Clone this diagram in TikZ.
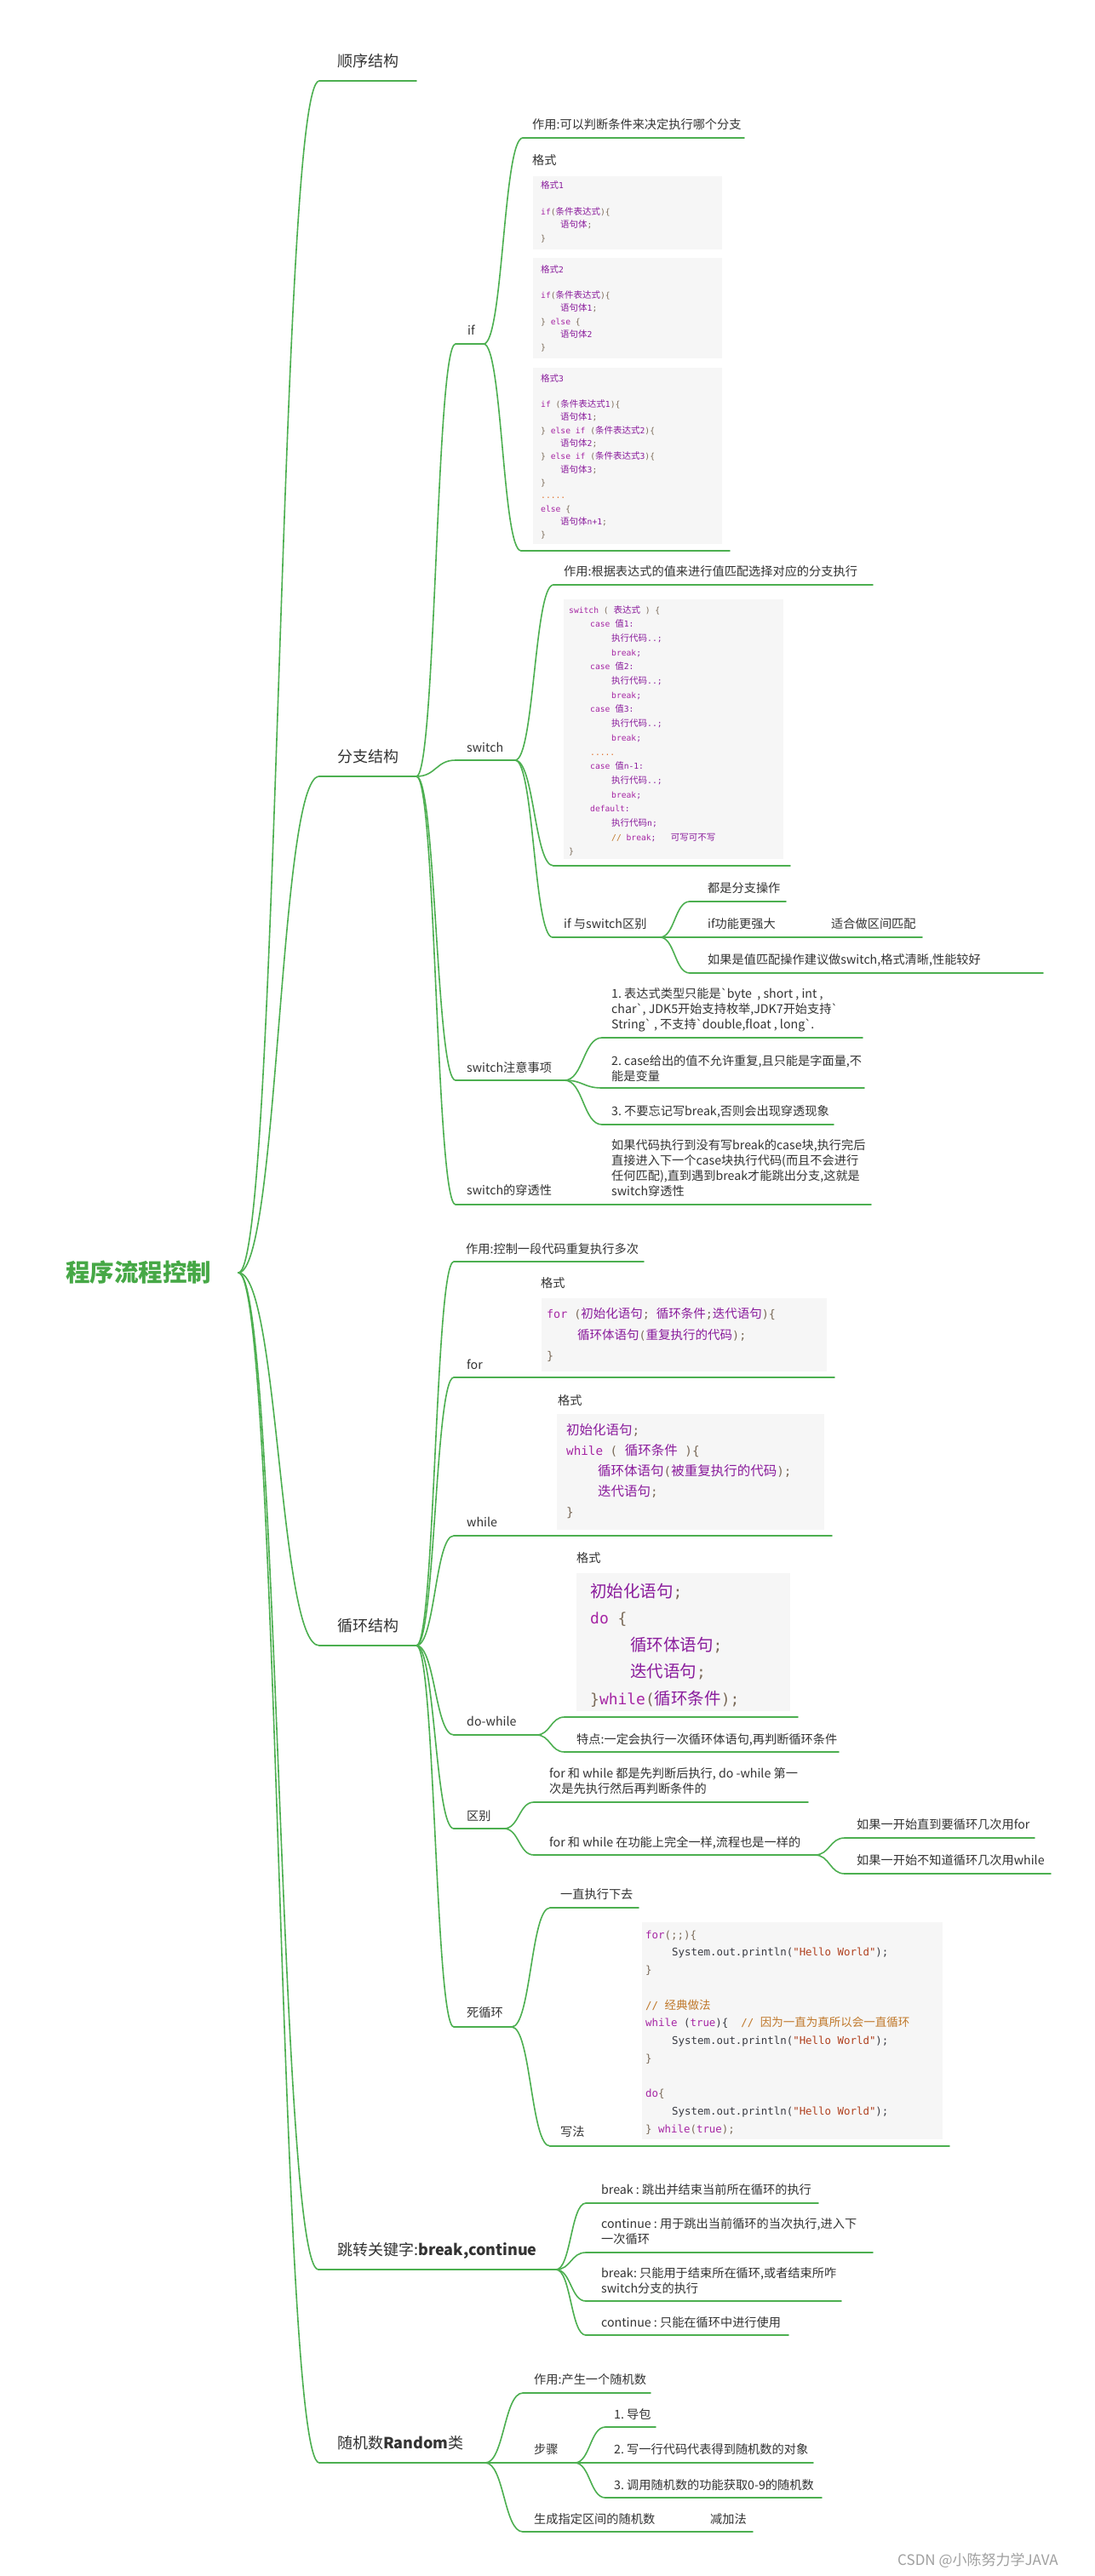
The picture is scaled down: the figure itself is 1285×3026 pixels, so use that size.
\documentclass[tikz,border=0pt]{standalone}
\usepackage{fontspec}
\setmainfont{Noto Sans CJK SC}
\newfontfamily\monof{DejaVu Sans Mono}[Scale=0.92]
\newfontfamily\gravef{DejaVu Sans}
\usetikzlibrary{calc}
\definecolor{brgreen}{HTML}{4CAF50}
\definecolor{rootc}{HTML}{46A846}
\definecolor{txtc}{HTML}{333333}
\definecolor{codebg}{HTML}{F6F6F6}
\definecolor{ckw}{HTML}{A626A4}
\definecolor{ccn}{HTML}{8A1C9C}
\definecolor{cpn}{HTML}{7A6A58}
\definecolor{cst}{HTML}{B0401E}
\definecolor{ccm}{HTML}{C0782A}
\definecolor{cpl}{HTML}{383A42}
\definecolor{cdt}{HTML}{E0702A}
\definecolor{wmc}{HTML}{A0A0A0}
\newcommand\Ckw[1]{{\monof\color{ckw}#1}}
\newcommand\Ccn[1]{{\color{ccn}#1}}
\newcommand\Cmo[1]{{\monof\color{ccn}#1}}
\newcommand\Cpn[1]{{\monof\color{cpn}#1}}
\newcommand\Cst[1]{{\monof\color{cst}#1}}
\newcommand\Ccm[1]{{\monof\color{ccm}#1}}
\newcommand\Cczm[1]{{\color{ccm}#1}}
\newcommand\Cpl[1]{{\monof\color{cpl}#1}}
\newcommand\Cdt[1]{{\monof\color{cdt}#1}}
\newcommand\bq{{\gravef\char"60}}
\newcommand\ml[1]{\begin{tabular}[t]{@{}l@{}}#1\end{tabular}}
\newcommand\mkul[4]{\coordinate (#1-s) at (#2,#4); \coordinate (#1-e) at (#3,#4); \draw[br] (#1-s) -- (#1-e);}
\newcommand\lnk[2]{\draw[br] let \p1=(#1-e), \p2=(#2-s) in (\p1) .. controls ({(\x1+\x2)/2},\y1) and ({(\x1+\x2)/2},\y2) .. (\p2);}
\tikzset{
  br/.style={draw=brgreen, line width=1.6pt, line cap=round},
  lbl/.style={anchor=base west, inner sep=0pt, text=txtc, font=\fontsize{14.2}{18}\selectfont},
  lone/.style={anchor=base west, inner sep=0pt, text=txtc, font=\fontsize{18}{22}\selectfont},
  rootlbl/.style={anchor=base west, inner sep=0pt, text=rootc, font=\fontsize{28.5}{32}\selectfont\bfseries},
  code/.style={anchor=base west, inner sep=0pt},
  codebox/.style={fill=codebg, draw=none, inner sep=0pt, anchor=north west},
}
\begin{document}
\frenchspacing
\begin{tikzpicture}[x=1pt,y=-1pt]
\useasboundingbox (0,0) rectangle (1285,3026);
\fill[white] (0,0) rectangle (1285,3026);

% ---------- root and level 1 ----------
\node[rootlbl] (root) at (77,1505.8) {程序流程控制};
\coordinate (root-e) at (280,1495);

\node[lone] (seq) at (396,78.8) {顺序结构}; \mkul{seq}{375}{489}{95}
\node[lone] (branch) at (396,895.8) {分支结构}; \mkul{branch}{375}{489}{912}
\node[lone] (loop) at (396,1916.8) {循环结构}; \mkul{loop}{375}{489}{1933}
\node[lone] (jump) at (396,2649.8) {跳转关键字:\textbf{break,continue}}; \mkul{jump}{374}{653}{2666}
\node[lone] (rand) at (396,2876.8) {随机数\textbf{Random}类}; \mkul{rand}{375}{570}{2893}
\lnk{root}{seq} \lnk{root}{branch} \lnk{root}{loop} \lnk{root}{jump} \lnk{root}{rand}

% ---------- branch ----------
\node[lbl] (if) at (549,393.4) {if}; \mkul{if}{535}{568}{404}
\node[lbl] (ifuse) at (625,151.4) {作用:可以判断条件来决定执行哪个分支}; \mkul{ifuse}{614}{874}{162}
\node[lbl] (iffmt) at (625,193.4) {格式}; \mkul{iffmt}{612}{857}{647}
\node[codebox, minimum width=222pt, minimum height=86pt] (ifbox1) at (626,207) {};
\node[codebox, minimum width=222pt, minimum height=118pt] (ifbox2) at (626,303) {};
\node[codebox, minimum width=222pt, minimum height=207pt] (ifbox3) at (626,432) {};
\node[code, font=\fontsize{10.5}{15.33}\selectfont] (ifcode1) at (635,222) {\ml{\Ccn{格式}\Cmo{1}\\
\\
\Ckw{if}\Cpn{(}\Ccn{条件表达式}\Cpn{)\{}\\
\hspace*{23pt}\Ccn{语句体}\Cpn{;}\\
\Cpn{\}}}};
\node[code, font=\fontsize{10.5}{15.33}\selectfont] (ifcode2) at (635,320) {\ml{\Ccn{格式}\Cmo{2}\\
\\
\Ckw{if}\Cpn{(}\Ccn{条件表达式}\Cpn{)\{}\\
\hspace*{23pt}\Ccn{语句体}\Cmo{1}\Cpn{;}\\
\Cpn{\}\ }\Ckw{else}\Cpn{\ \{}\\
\hspace*{23pt}\Ccn{语句体}\Cmo{2}\\
\Cpn{\}}}};
\node[code, font=\fontsize{10.5}{15.33}\selectfont] (ifcode3) at (635,448) {\ml{\Ccn{格式}\Cmo{3}\\
\\
\Ckw{if}\Cpn{\ (}\Ccn{条件表达式}\Cmo{1}\Cpn{)\{}\\
\hspace*{23pt}\Ccn{语句体}\Cmo{1}\Cpn{;}\\
\Cpn{\}\ }\Ckw{else\ if}\Cpn{\ (}\Ccn{条件表达式}\Cmo{2}\Cpn{)\{}\\
\hspace*{23pt}\Ccn{语句体}\Cmo{2}\Cpn{;}\\
\Cpn{\}\ }\Ckw{else\ if}\Cpn{\ (}\Ccn{条件表达式}\Cmo{3}\Cpn{)\{}\\
\hspace*{23pt}\Ccn{语句体}\Cmo{3}\Cpn{;}\\
\Cpn{\}}\\
\Cdt{.....}\\
\Ckw{else}\Cpn{\ \{}\\
\hspace*{23pt}\Ccn{语句体}\Cmo{n+1}\Cpn{;}\\
\Cpn{\}}}};

\node[lbl] (switch) at (548,883.4) {switch}; \mkul{switch}{535}{605}{893}
\node[lbl] (swuse) at (662,676.4) {作用:根据表达式的值来进行值匹配选择对应的分支执行}; \mkul{swuse}{650}{1025}{687}
\node[codebox, minimum width=258pt, minimum height=305pt] (swbox) at (662,704) {};
\node[code, font=\fontsize{10.5}{16.7}\selectfont] (swcode) at (668,720) {\ml{\Ckw{switch}\Cpn{\ (\ }\Ccn{表达式}\Cpn{\ )\ \{}\\
\hspace*{25pt}\Ckw{case}\Cpl{\ }\Ccn{值}\Cmo{1:}\\
\hspace*{50pt}\Ccn{执行代码}\Cmo{..;}\\
\hspace*{50pt}\Ckw{break}\Cmo{;}\\
\hspace*{25pt}\Ckw{case}\Cpl{\ }\Ccn{值}\Cmo{2:}\\
\hspace*{50pt}\Ccn{执行代码}\Cmo{..;}\\
\hspace*{50pt}\Ckw{break}\Cmo{;}\\
\hspace*{25pt}\Ckw{case}\Cpl{\ }\Ccn{值}\Cmo{3:}\\
\hspace*{50pt}\Ccn{执行代码}\Cmo{..;}\\
\hspace*{50pt}\Ckw{break}\Cmo{;}\\
\hspace*{25pt}\Cdt{.....}\\
\hspace*{25pt}\Ckw{case}\Cpl{\ }\Ccn{值}\Cmo{n-1:}\\
\hspace*{50pt}\Ccn{执行代码}\Cmo{..;}\\
\hspace*{50pt}\Ckw{break}\Cmo{;}\\
\hspace*{25pt}\Ckw{default}\Cmo{:}\\
\hspace*{50pt}\Ccn{执行代码}\Cmo{n;}\\
\hspace*{50pt}\Ccm{//\ }\Ckw{break}\Cmo{;}\Cpl{\ \ \ }\Ccn{可写可不写}\\
\Cpn{\}}}};
\mkul{swcode}{650}{928}{1017}
\node[lbl] (ifsw) at (662,1090.4) {if 与switch区别}; \mkul{ifsw}{649}{775}{1101}
\node[lbl] (same) at (831,1048.4) {都是分支操作}; \mkul{same}{810}{923}{1059}
\node[lbl] (strong) at (831,1090.4) {if功能更强大}; \mkul{strong}{810}{962}{1101}
\node[lbl] (interval) at (976,1090.4) {适合做区间匹配}; \mkul{interval}{962}{1083}{1101}
\node[lbl] (suggest) at (831,1132.4) {如果是值匹配操作建议做switch,格式清晰,性能较好}; \mkul{suggest}{810}{1225}{1143}

\node[lbl] (swnote) at (548,1259.4) {switch注意事项}; \mkul{swnote}{535}{663}{1269}
\node[lbl] (note1) at (718,1172.4) {\ml{1. 表达式类型只能是\bq byte\ \ , short , int ,\\char\bq, JDK5开始支持枚举,JDK7开始支持\bq\\String\bq\ , 不支持\bq double,float , long\bq.}}; \mkul{note1}{707}{1013}{1219}
\node[lbl] (note2) at (718,1251.4) {\ml{2. case给出的值不允许重复,且只能是字面量,不\\能是变量}}; \mkul{note2}{707}{1015}{1278}
\node[lbl] (note3) at (718,1310.4) {3. 不要忘记写break,否则会出现穿透现象}; \mkul{note3}{707}{979}{1321}
\node[lbl] (swpass) at (548,1403.4) {switch的穿透性}; \mkul{swpass}{535}{700}{1415}
\node[lbl] (passdesc) at (718,1350.4) {\ml{如果代码执行到没有写break的case块,执行完后\\直接进入下一个case块执行代码(而且不会进行\\任何匹配),直到遇到break才能跳出分支,这就是\\switch穿透性}}; \mkul{passdesc}{700}{1023}{1415}

\lnk{branch}{if} \lnk{branch}{switch} \lnk{branch}{swnote} \lnk{branch}{swpass}
\lnk{if}{ifuse} \lnk{if}{iffmt}
\lnk{switch}{swuse} \lnk{switch}{swcode} \lnk{switch}{ifsw}
\lnk{ifsw}{same} \lnk{ifsw}{strong} \lnk{ifsw}{suggest} \lnk{strong}{interval}
\lnk{swnote}{note1} \lnk{swnote}{note2} \lnk{swnote}{note3}
\lnk{swpass}{passdesc}

% ---------- loop ----------
\node[lbl] (luse) at (547,1472.4) {作用:控制一段代码重复执行多次}; \mkul{luse}{533}{756}{1482}
\node[lbl] (for) at (548,1608.4) {for}; \mkul{for}{533}{625}{1618}
\node[lbl] (forfmt) at (635,1512.4) {格式}; \mkul{forfmt}{625}{980}{1618}
\node[codebox, minimum width=335pt, minimum height=86pt] (forbox) at (636,1525) {};
\node[code, font=\fontsize{14.5}{24.5}\selectfont] (forcode) at (642,1548.5) {\ml{\Ckw{for}\Cpn{\ (}\Ccn{初始化语句}\Cpn{;\ }\Ccn{循环条件}\Cpn{;}\Ccn{迭代语句}\Cpn{)\{}\\
\hspace*{36pt}\Ccn{循环体语句}\Cpn{(}\Ccn{重复执行的代码}\Cpn{);}\\
\Cpn{\}}}};

\node[lbl] (while) at (548,1793.4) {while}; \mkul{while}{533}{645}{1804}
\node[lbl] (whfmt) at (655,1650.4) {格式}; \mkul{whfmt}{645}{977}{1804}
\node[codebox, minimum width=314pt, minimum height=136pt] (whbox) at (654,1661) {};
\node[code, font=\fontsize{15.5}{24.2}\selectfont] (whcode) at (665,1685) {\ml{\Ccn{初始化语句}\Cpn{;}\\
\Ckw{while}\Cpn{\ (\ }\Ccn{循环条件}\Cpn{\ )\{}\\
\hspace*{37pt}\Ccn{循环体语句}\Cpn{(}\Ccn{被重复执行的代码}\Cpn{);}\\
\hspace*{37pt}\Ccn{迭代语句}\Cpn{;}\\
\Cpn{\}}}};

\node[lbl] (dowhile) at (548,2027.4) {do-while}; \mkul{dowhile}{533}{630}{2038}
\node[lbl] (dwfmt) at (677,1835.4) {格式}; \mkul{dwfmt}{663}{937}{2017}
\node[codebox, minimum width=251pt, minimum height=162pt] (dwbox) at (677,1848) {};
\node[code, font=\fontsize{19.5}{31.5}\selectfont] (dwcode) at (693,1876.4) {\ml{\Ccn{初始化语句}\Cpn{;}\\
\Ckw{do}\Cpn{\ \{}\\
\hspace*{47pt}\Ccn{循环体语句}\Cpn{;}\\
\hspace*{47pt}\Ccn{迭代语句}\Cpn{;}\\
\Cpn{\}}\Ckw{while}\Cpn{(}\Ccn{循环条件}\Cpn{);}}};
\node[lbl] (dwfeat) at (677,2048.4) {特点:一定会执行一次循环体语句,再判断循环条件}; \mkul{dwfeat}{663}{985}{2058}

\node[lbl] (diff) at (548,2138.4) {区别}; \mkul{diff}{533}{592}{2148}
\node[lbl] (diff1) at (645,2088.4) {\ml{for 和 while 都是先判断后执行, do -while 第一\\次是先执行然后再判断条件的}}; \mkul{diff1}{627}{949}{2117}
\node[lbl] (diff2) at (645,2169.4) {for 和 while 在功能上完全一样,流程也是一样的}; \mkul{diff2}{627}{957}{2179}
\node[lbl] (usefor) at (1006,2148.4) {如果一开始直到要循环几次用for}; \mkul{usefor}{992}{1215}{2159}
\node[lbl] (usewhile) at (1006,2190.4) {如果一开始不知道循环几次用while}; \mkul{usewhile}{992}{1234}{2201}

\node[lbl] (dead) at (548,2369.4) {死循环}; \mkul{dead}{533}{601}{2381}
\node[lbl] (forever) at (658,2230.4) {一直执行下去}; \mkul{forever}{646}{750}{2241}
\node[lbl] (howto) at (658,2509.4) {写法}; \mkul{howto}{646}{1115}{2521}
\node[codebox, minimum width=353pt, minimum height=255pt] (deadbox) at (754,2258) {};
\node[code, font=\fontsize{13.5}{20.75}\selectfont] (deadcode) at (758,2277) {\ml{\Ckw{for}\Cpn{(;;)\{}\\
\hspace*{31pt}\Cpl{System.out.println(}\Cst{"Hello\ World"}\Cpl{);}\\
\Cpn{\}}\\
\\
\Ccm{//\ }\Cczm{经典做法}\\
\Ckw{while}\Cpl{\ (}\Ckw{true}\Cpl{)\{\ \ }\Ccm{//\ }\Cczm{因为一直为真所以会一直循环}\\
\hspace*{31pt}\Cpl{System.out.println(}\Cst{"Hello\ World"}\Cpl{);}\\
\Cpn{\}}\\
\\
\Ckw{do}\Cpn{\{}\\
\hspace*{31pt}\Cpl{System.out.println(}\Cst{"Hello\ World"}\Cpl{);}\\
\Cpn{\}\ }\Ckw{while}\Cpn{(}\Ckw{true}\Cpn{);}}};

\lnk{loop}{luse} \lnk{loop}{for} \lnk{loop}{while} \lnk{loop}{dowhile} \lnk{loop}{diff} \lnk{loop}{dead}
\lnk{for}{forfmt} \lnk{while}{whfmt}
\lnk{dowhile}{dwfmt} \lnk{dowhile}{dwfeat}
\lnk{diff}{diff1} \lnk{diff}{diff2} \lnk{diff2}{usefor} \lnk{diff2}{usewhile}
\lnk{dead}{forever} \lnk{dead}{howto}

% ---------- jump ----------
\node[lbl] (j1) at (706,2577.4) {break : 跳出并结束当前所在循环的执行}; \mkul{j1}{688}{961}{2588}
\node[lbl] (j2) at (706,2617.4) {\ml{continue : 用于跳出当前循环的当次执行,进入下\\一次循环}}; \mkul{j2}{688}{1025}{2646}
\node[lbl] (j3) at (706,2675.4) {\ml{break: 只能用于结束所在循环,或者结束所咋\\switch分支的执行}}; \mkul{j3}{688}{988}{2703}
\node[lbl] (j4) at (706,2733.4) {continue : 只能在循环中进行使用}; \mkul{j4}{688}{926}{2743}
\lnk{jump}{j1} \lnk{jump}{j2} \lnk{jump}{j3} \lnk{jump}{j4}

% ---------- random ----------
\node[lbl] (r1) at (627,2800.4) {作用:产生一个随机数}; \mkul{r1}{614}{764}{2811}
\node[lbl] (r2) at (627,2882.4) {步骤}; \mkul{r2}{614}{675}{2893}
\node[lbl] (st1) at (721,2841.4) {1. 导包}; \mkul{st1}{711}{770}{2851}
\node[lbl] (st2) at (721,2882.4) {2. 写一行代码代表得到随机数的对象}; \mkul{st2}{711}{955}{2893}
\node[lbl] (st3) at (721,2924.4) {3. 调用随机数的功能获取0-9的随机数}; \mkul{st3}{711}{965}{2934}
\node[lbl] (r3) at (627,2964.4) {生成指定区间的随机数}; \mkul{r3}{614}{820}{2974}
\node[lbl] (r3a) at (834,2964.4) {减加法}; \mkul{r3a}{820}{884}{2974}
\lnk{rand}{r1} \lnk{rand}{r2} \lnk{rand}{r3}
\lnk{r2}{st1} \lnk{r2}{st2} \lnk{r2}{st3} \lnk{r3}{r3a}

\node[anchor=base west, inner sep=0pt, text=wmc, font=\fontsize{17}{20}\selectfont] (wm) at (1054,3013) {CSDN @小陈努力学JAVA};
\end{tikzpicture}
\end{document}
